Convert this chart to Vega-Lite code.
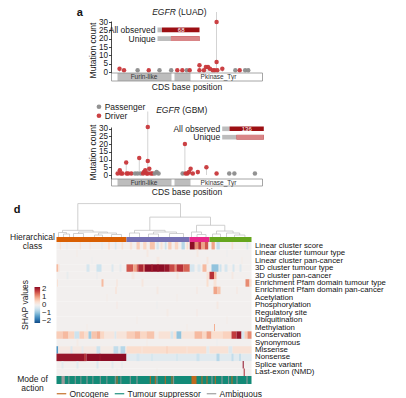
{
  "$schema": "https://vega.github.io/schema/vega-lite/v6.json",
  "background": "white",
  "padding": {"left": 9.5, "top": 5, "right": 0, "bottom": 0},
  "bounds": "flush",
  "spacing": 0,
  "resolve": {"scale": {"color": "independent", "x": "independent", "y": "independent"}},
  "config": {
    "font": "Liberation Sans",
    "view": {"stroke": null},
    "axis": {"grid": false, "labelFontSize": 8.5, "titleFontSize": 8.5, "titleFontWeight": "normal", "labelColor": "#1a1a1a", "titleColor": "#1a1a1a", "tickColor": "#1a1a1a", "domainColor": "#1a1a1a", "tickWidth": 0.8, "domainWidth": 0.8},
    "legend": {"labelFontSize": 8.5, "titleFontSize": 8.5, "titleFontWeight": "normal", "labelColor": "#1a1a1a", "titleColor": "#1a1a1a"}
  },
  "datasets": {
    "egfr_domains": [{"name": "Furin-like", "start": 144, "end": 1440}, {"name": "GF_recep_IV", "start": 1512, "end": 1896}],
    "egfr_domain_labels": [{"label": "Furin-like", "pos": 780}, {"label": "Pkinase_Tyr", "pos": 2568}],
    "egfr_cds": [{"start": 0, "end": 3624}],
    "luad_title": [{"panel": "a", "gene": "EGFR", "cohort": "(LUAD)", "panel_pos": -761, "title_pos": 1572}],
    "gbm_title": [{"gene": "EGFR", "cohort": "(GBM)", "title_pos": 1668}],
    "luad": [
      {"pos": 144, "count": 2, "type": "Driver"}, {"pos": 257, "count": 1, "type": "Driver"}, {"pos": 600, "count": 1, "type": "Passenger"},
      {"pos": 881, "count": 1, "type": "Driver"}, {"pos": 1152, "count": 1, "type": "Passenger"}, {"pos": 1447, "count": 1, "type": "Passenger"},
      {"pos": 1601, "count": 1, "type": "Driver"}, {"pos": 1728, "count": 1, "type": "Driver"}, {"pos": 1840, "count": 1, "type": "Passenger"},
      {"pos": 1913, "count": 1, "type": "Driver"}, {"pos": 2160, "count": 4, "type": "Driver"}, {"pos": 2160, "count": 1, "type": "Driver"},
      {"pos": 2273, "count": 1, "type": "Driver"}, {"pos": 2321, "count": 3, "type": "Driver"}, {"pos": 2376, "count": 3, "type": "Driver"},
      {"pos": 2424, "count": 2, "type": "Driver"}, {"pos": 2496, "count": 1, "type": "Driver"}, {"pos": 2544, "count": 1, "type": "Driver"},
      {"pos": 2592, "count": 30, "type": "Driver"}, {"pos": 2592, "count": 6, "type": "Driver"}, {"pos": 2610, "count": 1, "type": "Driver"},
      {"pos": 2736, "count": 2, "type": "Driver"}, {"pos": 3065, "count": 1, "type": "Passenger"}, {"pos": 3175, "count": 1, "type": "Driver"},
      {"pos": 3312, "count": 1, "type": "Passenger"}, {"pos": 3391, "count": 1, "type": "Passenger"}
    ],
    "luad_bar": [
      {"bar": "All observed", "type": "Passenger", "n": 8}, {"bar": "All observed", "type": "Driver", "n": 68},
      {"bar": "Unique", "type": "Passenger", "n": 8}, {"bar": "Unique", "type": "Driver", "n": 17}
    ],
    "gbm": [
      {"pos": 96, "count": 1, "type": "Driver"}, {"pos": 151, "count": 3, "type": "Driver"}, {"pos": 180, "count": 1, "type": "Driver"},
      {"pos": 216, "count": 1, "type": "Driver"}, {"pos": 312, "count": 8, "type": "Driver"}, {"pos": 324, "count": 1, "type": "Driver"},
      {"pos": 360, "count": 1, "type": "Driver"}, {"pos": 439, "count": 1, "type": "Driver"}, {"pos": 535, "count": 1, "type": "Passenger"},
      {"pos": 600, "count": 1, "type": "Passenger"}, {"pos": 641, "count": 11, "type": "Driver"}, {"pos": 679, "count": 1, "type": "Passenger"},
      {"pos": 737, "count": 1, "type": "Driver"}, {"pos": 761, "count": 2, "type": "Driver"}, {"pos": 792, "count": 3, "type": "Driver"},
      {"pos": 828, "count": 1, "type": "Driver"}, {"pos": 857, "count": 31, "type": "Driver"}, {"pos": 857, "count": 9, "type": "Driver"},
      {"pos": 857, "count": 1, "type": "Driver"}, {"pos": 895, "count": 4, "type": "Driver"}, {"pos": 936, "count": 1, "type": "Driver"},
      {"pos": 977, "count": 1, "type": "Driver"}, {"pos": 1032, "count": 1, "type": "Passenger"}, {"pos": 1080, "count": 2, "type": "Passenger"},
      {"pos": 1128, "count": 1, "type": "Passenger"}, {"pos": 1735, "count": 1, "type": "Passenger"}, {"pos": 1793, "count": 20, "type": "Driver"},
      {"pos": 1812, "count": 1, "type": "Driver"}, {"pos": 1855, "count": 1, "type": "Driver"}, {"pos": 1896, "count": 2, "type": "Driver"},
      {"pos": 1937, "count": 4, "type": "Driver"}, {"pos": 1992, "count": 1, "type": "Driver"}, {"pos": 2119, "count": 2, "type": "Driver"},
      {"pos": 2335, "count": 5, "type": "Driver"}, {"pos": 2592, "count": 1, "type": "Driver"}, {"pos": 2911, "count": 1, "type": "Passenger"},
      {"pos": 3041, "count": 1, "type": "Passenger"}, {"pos": 3559, "count": 1, "type": "Passenger"}
    ],
    "gbm_bar": [
      {"bar": "All observed", "type": "Passenger", "n": 29}, {"bar": "All observed", "type": "Driver", "n": 136},
      {"bar": "Unique", "type": "Passenger", "n": 10}, {"bar": "Unique", "type": "Driver", "n": 19}
    ],
    "dendro": [
      {"x1": 21.3, "x2": 124, "h1": 3.36, "h2": 3.36}, {"x1": 21.3, "x2": 21.3, "h1": 0.67, "h2": 3.36}, {"x1": 124, "x2": 124, "h1": 2.0, "h2": 3.36},
      {"x1": 93.3, "x2": 154, "h1": 2.0, "h2": 2.0}, {"x1": 93.3, "x2": 93.3, "h1": 0.67, "h2": 2.0}, {"x1": 154, "x2": 154, "h1": 1.18, "h2": 2.0},
      {"x1": 140, "x2": 168.3, "h1": 1.18, "h2": 1.18}, {"x1": 140, "x2": 140, "h1": 0.5, "h2": 1.18}, {"x1": 168.3, "x2": 168.3, "h1": 0.6, "h2": 1.18},
      {"x1": 6, "x2": 36.6, "h1": 0.67, "h2": 0.67}, {"x1": 6, "x2": 6, "h1": 0.45, "h2": 0.67}, {"x1": 2, "x2": 10, "h1": 0.45, "h2": 0.45},
      {"x1": 2, "x2": 2, "h1": 0, "h2": 0.45}, {"x1": 10, "x2": 10, "h1": 0.3, "h2": 0.45}, {"x1": 7, "x2": 13, "h1": 0.3, "h2": 0.3},
      {"x1": 7, "x2": 7, "h1": 0, "h2": 0.3}, {"x1": 13, "x2": 13, "h1": 0, "h2": 0.3}, {"x1": 36.6, "x2": 36.6, "h1": 0.5, "h2": 0.67},
      {"x1": 22, "x2": 51, "h1": 0.5, "h2": 0.5}, {"x1": 22, "x2": 22, "h1": 0.35, "h2": 0.5}, {"x1": 17, "x2": 27, "h1": 0.35, "h2": 0.35},
      {"x1": 17, "x2": 17, "h1": 0, "h2": 0.35}, {"x1": 27, "x2": 27, "h1": 0, "h2": 0.35}, {"x1": 51, "x2": 51, "h1": 0.4, "h2": 0.5},
      {"x1": 42, "x2": 60, "h1": 0.4, "h2": 0.4}, {"x1": 42, "x2": 42, "h1": 0.2, "h2": 0.4}, {"x1": 38, "x2": 46, "h1": 0.2, "h2": 0.2},
      {"x1": 38, "x2": 38, "h1": 0, "h2": 0.2}, {"x1": 46, "x2": 46, "h1": 0, "h2": 0.2}, {"x1": 60, "x2": 60, "h1": 0.25, "h2": 0.4},
      {"x1": 55, "x2": 65, "h1": 0.25, "h2": 0.25}, {"x1": 55, "x2": 55, "h1": 0, "h2": 0.25}, {"x1": 65, "x2": 65, "h1": 0, "h2": 0.25},
      {"x1": 78, "x2": 108.6, "h1": 0.67, "h2": 0.67}, {"x1": 78, "x2": 78, "h1": 0.4, "h2": 0.67}, {"x1": 73, "x2": 83, "h1": 0.4, "h2": 0.4},
      {"x1": 73, "x2": 73, "h1": 0, "h2": 0.4}, {"x1": 83, "x2": 83, "h1": 0, "h2": 0.4}, {"x1": 108.6, "x2": 108.6, "h1": 0.5, "h2": 0.67},
      {"x1": 97, "x2": 120, "h1": 0.5, "h2": 0.5}, {"x1": 97, "x2": 97, "h1": 0.3, "h2": 0.5}, {"x1": 92, "x2": 102, "h1": 0.3, "h2": 0.3},
      {"x1": 92, "x2": 92, "h1": 0, "h2": 0.3}, {"x1": 102, "x2": 102, "h1": 0, "h2": 0.3}, {"x1": 120, "x2": 120, "h1": 0.35, "h2": 0.5},
      {"x1": 113, "x2": 127, "h1": 0.35, "h2": 0.35}, {"x1": 113, "x2": 113, "h1": 0, "h2": 0.35}, {"x1": 127, "x2": 127, "h1": 0, "h2": 0.35},
      {"x1": 135, "x2": 145, "h1": 0.5, "h2": 0.5}, {"x1": 135, "x2": 135, "h1": 0, "h2": 0.5}, {"x1": 145, "x2": 145, "h1": 0.25, "h2": 0.5},
      {"x1": 140.5, "x2": 149.5, "h1": 0.25, "h2": 0.25}, {"x1": 140.5, "x2": 140.5, "h1": 0, "h2": 0.25}, {"x1": 149.5, "x2": 149.5, "h1": 0, "h2": 0.25},
      {"x1": 160, "x2": 176.6, "h1": 0.6, "h2": 0.6}, {"x1": 160, "x2": 160, "h1": 0.3, "h2": 0.6}, {"x1": 156, "x2": 164, "h1": 0.3, "h2": 0.3},
      {"x1": 156, "x2": 156, "h1": 0, "h2": 0.3}, {"x1": 164, "x2": 164, "h1": 0, "h2": 0.3}, {"x1": 176.6, "x2": 176.6, "h1": 0.4, "h2": 0.6},
      {"x1": 170, "x2": 183.2, "h1": 0.4, "h2": 0.4}, {"x1": 170, "x2": 170, "h1": 0, "h2": 0.4}, {"x1": 183.2, "x2": 183.2, "h1": 0.2, "h2": 0.4},
      {"x1": 178, "x2": 188.4, "h1": 0.2, "h2": 0.2}, {"x1": 178, "x2": 178, "h1": 0, "h2": 0.2}, {"x1": 188.4, "x2": 188.4, "h1": 0, "h2": 0.2}
    ],
    "panel_d": [{"panel": "d", "px": -39.3, "py": 2.69}],
    "classes": [
      {"c": "Cluster 1", "a": 0, "b": 70}, {"c": "Cluster 2", "a": 70, "b": 133},
      {"c": "Cluster 3", "a": 133, "b": 153}, {"c": "Cluster 4", "a": 153, "b": 195}
    ],
    "class_label": [{"label": "Hierarchical\nclass", "px": -24}],
    "mode_label": [{"label": "Mode of\naction", "px": -24}],
    "shap": [
      {"f": "Linear cluster score", "a": 0, "b": 195, "v": 0},
      {"f": "Linear cluster tumour type", "a": 0, "b": 195, "v": 0},
      {"f": "Linear cluster pan-cancer", "a": 0, "b": 195, "v": 0},
      {"f": "3D cluster tumour type", "a": 0, "b": 195, "v": 0},
      {"f": "3D cluster pan-cancer", "a": 0, "b": 195, "v": 0},
      {"f": "Enrichment Pfam domain tumour type", "a": 0, "b": 195, "v": 0},
      {"f": "Enrichment Pfam domain pan-cancer", "a": 0, "b": 195, "v": 0},
      {"f": "Acetylation", "a": 0, "b": 195, "v": 0},
      {"f": "Phosphorylation", "a": 0, "b": 195, "v": 0},
      {"f": "Regulatory site", "a": 0, "b": 195, "v": 0},
      {"f": "Ubiquitination", "a": 0, "b": 195, "v": 0},
      {"f": "Methylation", "a": 0, "b": 195, "v": 0},
      {"f": "Conservation", "a": 0, "b": 195, "v": 0},
      {"f": "Synonymous", "a": 0, "b": 195, "v": 0},
      {"f": "Missense", "a": 0, "b": 195, "v": 0},
      {"f": "Nonsense", "a": 0, "b": 195, "v": 0},
      {"f": "Splice variant", "a": 0, "b": 195, "v": 0},
      {"f": "Last-exon (NMD)", "a": 0, "b": 195, "v": 0},
      {"f": "Linear cluster score", "a": 3.3, "b": 4.3, "v": 0.3},
      {"f": "Linear cluster score", "a": 10, "b": 11, "v": -0.15},
      {"f": "Linear cluster score", "a": 23.3, "b": 24.3, "v": 0.3},
      {"f": "Linear cluster score", "a": 33, "b": 34, "v": 0.2},
      {"f": "Linear cluster score", "a": 45, "b": 46, "v": -0.2},
      {"f": "Linear cluster score", "a": 51.7, "b": 53.3, "v": 0.4},
      {"f": "Linear cluster score", "a": 58.3, "b": 60, "v": -0.3},
      {"f": "Linear cluster score", "a": 65, "b": 66.7, "v": 0.3},
      {"f": "Linear cluster score", "a": 73.3, "b": 75.7, "v": 0.3},
      {"f": "Linear cluster score", "a": 80, "b": 83.3, "v": 0.6},
      {"f": "Linear cluster score", "a": 86.7, "b": 90, "v": 0.5},
      {"f": "Linear cluster score", "a": 93.3, "b": 98.3, "v": 0.7},
      {"f": "Linear cluster score", "a": 100, "b": 102.3, "v": -0.4},
      {"f": "Linear cluster score", "a": 104, "b": 106, "v": 0.3},
      {"f": "Linear cluster score", "a": 108.3, "b": 110, "v": -0.5},
      {"f": "Linear cluster score", "a": 111.7, "b": 115, "v": 0.6},
      {"f": "Linear cluster score", "a": 118.3, "b": 121.7, "v": 0.5},
      {"f": "Linear cluster score", "a": 125, "b": 128.3, "v": -0.7},
      {"f": "Linear cluster score", "a": 130, "b": 131.7, "v": 0.4},
      {"f": "Linear cluster score", "a": 133.3, "b": 138.3, "v": 2.8},
      {"f": "Linear cluster score", "a": 138.3, "b": 141.7, "v": 1.2},
      {"f": "Linear cluster score", "a": 141.7, "b": 145, "v": 1.8},
      {"f": "Linear cluster score", "a": 145, "b": 148.3, "v": 1.0},
      {"f": "Linear cluster score", "a": 148.3, "b": 151.7, "v": 1.6},
      {"f": "Linear cluster score", "a": 155, "b": 158.3, "v": 1.0},
      {"f": "Linear cluster score", "a": 160, "b": 163.3, "v": -0.6},
      {"f": "Linear cluster score", "a": 175, "b": 176.7, "v": 0.3},
      {"f": "Linear cluster score", "a": 190, "b": 191.7, "v": -0.3},
      {"f": "Linear cluster tumour type", "a": 20, "b": 21, "v": 0.1},
      {"f": "Linear cluster tumour type", "a": 90, "b": 92, "v": 0.15},
      {"f": "Linear cluster tumour type", "a": 140, "b": 142, "v": 0.15},
      {"f": "Linear cluster tumour type", "a": 170, "b": 171, "v": -0.1},
      {"f": "Linear cluster pan-cancer", "a": 35, "b": 36, "v": -0.1},
      {"f": "Linear cluster pan-cancer", "a": 100, "b": 103, "v": 0.15},
      {"f": "Linear cluster pan-cancer", "a": 150, "b": 152, "v": 0.2},
      {"f": "Linear cluster pan-cancer", "a": 185, "b": 186, "v": 0.1},
      {"f": "3D cluster tumour type", "a": 0, "b": 1.5, "v": 0.8},
      {"f": "3D cluster tumour type", "a": 1.5, "b": 3, "v": 0.3},
      {"f": "3D cluster tumour type", "a": 30, "b": 33, "v": -0.4},
      {"f": "3D cluster tumour type", "a": 40, "b": 45, "v": -0.5},
      {"f": "3D cluster tumour type", "a": 55, "b": 57, "v": -0.3},
      {"f": "3D cluster tumour type", "a": 63, "b": 65, "v": -0.2},
      {"f": "3D cluster tumour type", "a": 70, "b": 76.7, "v": 1.6},
      {"f": "3D cluster tumour type", "a": 76.7, "b": 80, "v": 1.0},
      {"f": "3D cluster tumour type", "a": 80, "b": 81.7, "v": 1.5},
      {"f": "3D cluster tumour type", "a": 81.7, "b": 86.7, "v": 2.0},
      {"f": "3D cluster tumour type", "a": 86.7, "b": 88.3, "v": 1.6},
      {"f": "3D cluster tumour type", "a": 88.3, "b": 108.3, "v": 2.7},
      {"f": "3D cluster tumour type", "a": 95, "b": 96, "v": 2.0},
      {"f": "3D cluster tumour type", "a": 101, "b": 102, "v": 2.2},
      {"f": "3D cluster tumour type", "a": 108.3, "b": 113.3, "v": 2.2},
      {"f": "3D cluster tumour type", "a": 113.3, "b": 118.3, "v": 1.7},
      {"f": "3D cluster tumour type", "a": 118.3, "b": 120, "v": 1.2},
      {"f": "3D cluster tumour type", "a": 120, "b": 126.7, "v": 1.9},
      {"f": "3D cluster tumour type", "a": 126.7, "b": 133.3, "v": 1.5},
      {"f": "3D cluster tumour type", "a": 133.3, "b": 138, "v": -0.4},
      {"f": "3D cluster tumour type", "a": 141, "b": 144, "v": -0.3},
      {"f": "3D cluster tumour type", "a": 146, "b": 150, "v": 0.8},
      {"f": "3D cluster tumour type", "a": 155, "b": 162, "v": -1.0},
      {"f": "3D cluster tumour type", "a": 163, "b": 165, "v": -0.5},
      {"f": "3D cluster tumour type", "a": 168, "b": 171, "v": -0.4},
      {"f": "3D cluster tumour type", "a": 176, "b": 178, "v": -0.4},
      {"f": "3D cluster tumour type", "a": 183, "b": 185, "v": -0.3},
      {"f": "3D cluster pan-cancer", "a": 10, "b": 12, "v": -0.15},
      {"f": "3D cluster pan-cancer", "a": 40, "b": 41, "v": -0.15},
      {"f": "3D cluster pan-cancer", "a": 75, "b": 78, "v": 0.15},
      {"f": "3D cluster pan-cancer", "a": 120, "b": 122, "v": 0.2},
      {"f": "3D cluster pan-cancer", "a": 150, "b": 153, "v": 0.3},
      {"f": "3D cluster pan-cancer", "a": 153, "b": 157.5, "v": 1.9},
      {"f": "3D cluster pan-cancer", "a": 157.5, "b": 160, "v": 0.8},
      {"f": "3D cluster pan-cancer", "a": 175, "b": 177, "v": 0.15},
      {"f": "Enrichment Pfam domain tumour type", "a": 0.5, "b": 1.5, "v": 0.3},
      {"f": "Enrichment Pfam domain tumour type", "a": 45, "b": 47, "v": 0.8},
      {"f": "Enrichment Pfam domain tumour type", "a": 60, "b": 61, "v": 0.3},
      {"f": "Enrichment Pfam domain tumour type", "a": 85, "b": 87, "v": 0.2},
      {"f": "Enrichment Pfam domain tumour type", "a": 150, "b": 152, "v": 0.4},
      {"f": "Enrichment Pfam domain tumour type", "a": 157, "b": 160, "v": 0.3},
      {"f": "Enrichment Pfam domain tumour type", "a": 189, "b": 193, "v": 1.2},
      {"f": "Enrichment Pfam domain tumour type", "a": 193, "b": 195, "v": 0.4},
      {"f": "Enrichment Pfam domain pan-cancer", "a": 59, "b": 60, "v": 0.4},
      {"f": "Enrichment Pfam domain pan-cancer", "a": 100, "b": 102, "v": 0.15},
      {"f": "Enrichment Pfam domain pan-cancer", "a": 140, "b": 141, "v": 0.2},
      {"f": "Enrichment Pfam domain pan-cancer", "a": 157, "b": 161, "v": 1.0},
      {"f": "Enrichment Pfam domain pan-cancer", "a": 161, "b": 164, "v": 0.7},
      {"f": "Enrichment Pfam domain pan-cancer", "a": 180, "b": 181, "v": 0.2},
      {"f": "Acetylation", "a": 50, "b": 51, "v": 0.1},
      {"f": "Acetylation", "a": 120, "b": 121, "v": 0.1},
      {"f": "Phosphorylation", "a": 60, "b": 61, "v": 0.15},
      {"f": "Phosphorylation", "a": 100, "b": 101, "v": -0.1},
      {"f": "Phosphorylation", "a": 160, "b": 162, "v": 0.15},
      {"f": "Regulatory site", "a": 110, "b": 112, "v": 0.1},
      {"f": "Regulatory site", "a": 140, "b": 141, "v": 0.15},
      {"f": "Ubiquitination", "a": 80, "b": 81, "v": 0.1},
      {"f": "Ubiquitination", "a": 170, "b": 171, "v": 0.1},
      {"f": "Methylation", "a": 30, "b": 31, "v": 0.1},
      {"f": "Methylation", "a": 130, "b": 131, "v": 0.1},
      {"f": "Methylation", "a": 157.5, "b": 158.5, "v": 0.9},
      {"f": "Conservation", "a": 0, "b": 6, "v": 0.6},
      {"f": "Conservation", "a": 6, "b": 12, "v": 0.8},
      {"f": "Conservation", "a": 12, "b": 18, "v": 0.5},
      {"f": "Conservation", "a": 18, "b": 23, "v": -0.5},
      {"f": "Conservation", "a": 23, "b": 28, "v": 0.6},
      {"f": "Conservation", "a": 28, "b": 32, "v": 0.4},
      {"f": "Conservation", "a": 32, "b": 35, "v": -0.9},
      {"f": "Conservation", "a": 35, "b": 40, "v": 0.7},
      {"f": "Conservation", "a": 40, "b": 44, "v": 0.9},
      {"f": "Conservation", "a": 44, "b": 48, "v": 0.5},
      {"f": "Conservation", "a": 48, "b": 58, "v": 0.2},
      {"f": "Conservation", "a": 58, "b": 60, "v": -0.3},
      {"f": "Conservation", "a": 60, "b": 70, "v": 0.25},
      {"f": "Conservation", "a": 70, "b": 78, "v": 0.6},
      {"f": "Conservation", "a": 78, "b": 84, "v": 0.8},
      {"f": "Conservation", "a": 84, "b": 90, "v": 0.5},
      {"f": "Conservation", "a": 90, "b": 98, "v": 0.7},
      {"f": "Conservation", "a": 98, "b": 102, "v": 0.1},
      {"f": "Conservation", "a": 102, "b": 114, "v": 0.3},
      {"f": "Conservation", "a": 114, "b": 117, "v": -0.4},
      {"f": "Conservation", "a": 117, "b": 120, "v": 0.3},
      {"f": "Conservation", "a": 120, "b": 125, "v": -1.0},
      {"f": "Conservation", "a": 125, "b": 138, "v": 0.25},
      {"f": "Conservation", "a": 138, "b": 146, "v": 0.8},
      {"f": "Conservation", "a": 146, "b": 150, "v": 0.5},
      {"f": "Conservation", "a": 150, "b": 155, "v": 1.0},
      {"f": "Conservation", "a": 155, "b": 166, "v": 0.4},
      {"f": "Conservation", "a": 166, "b": 175, "v": 0.55},
      {"f": "Conservation", "a": 175, "b": 180, "v": 1.8},
      {"f": "Conservation", "a": 180, "b": 185, "v": 2.2},
      {"f": "Conservation", "a": 185, "b": 188, "v": -0.4},
      {"f": "Conservation", "a": 188, "b": 191, "v": 0.6},
      {"f": "Conservation", "a": 191, "b": 195, "v": 1.2},
      {"f": "Synonymous", "a": 20, "b": 22, "v": 0.1},
      {"f": "Synonymous", "a": 90, "b": 91, "v": 0.1},
      {"f": "Synonymous", "a": 160, "b": 161, "v": -0.1},
      {"f": "Missense", "a": 0, "b": 1.7, "v": -1.5},
      {"f": "Missense", "a": 1.7, "b": 40, "v": 0.15},
      {"f": "Missense", "a": 14, "b": 16, "v": -0.3},
      {"f": "Missense", "a": 25, "b": 27, "v": -0.2},
      {"f": "Missense", "a": 40, "b": 44, "v": -0.5},
      {"f": "Missense", "a": 44, "b": 57, "v": 0.1},
      {"f": "Missense", "a": 57, "b": 62, "v": -0.6},
      {"f": "Missense", "a": 62, "b": 64, "v": -0.2},
      {"f": "Missense", "a": 64, "b": 69, "v": -0.7},
      {"f": "Missense", "a": 69, "b": 70, "v": 0.1},
      {"f": "Missense", "a": 70, "b": 150, "v": 0.4},
      {"f": "Missense", "a": 85, "b": 86, "v": 0.2},
      {"f": "Missense", "a": 110, "b": 111, "v": 0.6},
      {"f": "Missense", "a": 130, "b": 131, "v": 0.2},
      {"f": "Missense", "a": 150, "b": 153, "v": -0.2},
      {"f": "Missense", "a": 153, "b": 172, "v": 0.3},
      {"f": "Missense", "a": 172, "b": 176, "v": -0.3},
      {"f": "Missense", "a": 176, "b": 195, "v": 0.3},
      {"f": "Nonsense", "a": 0, "b": 30, "v": 2.2},
      {"f": "Nonsense", "a": 28, "b": 29, "v": 1.6},
      {"f": "Nonsense", "a": 30, "b": 70, "v": 2.7},
      {"f": "Nonsense", "a": 43, "b": 44, "v": 2.2},
      {"f": "Nonsense", "a": 70, "b": 195, "v": -0.25},
      {"f": "Nonsense", "a": 80, "b": 83, "v": -0.4},
      {"f": "Nonsense", "a": 95, "b": 96, "v": -0.5},
      {"f": "Nonsense", "a": 120, "b": 121, "v": -0.5},
      {"f": "Nonsense", "a": 140, "b": 143, "v": -0.5},
      {"f": "Nonsense", "a": 160, "b": 163, "v": -0.7},
      {"f": "Nonsense", "a": 175, "b": 177, "v": -0.6},
      {"f": "Nonsense", "a": 183, "b": 184, "v": -0.8},
      {"f": "Splice variant", "a": 5, "b": 7, "v": -0.2},
      {"f": "Splice variant", "a": 20, "b": 22, "v": -0.25},
      {"f": "Splice variant", "a": 40, "b": 42, "v": -0.3},
      {"f": "Splice variant", "a": 55, "b": 57, "v": -0.2},
      {"f": "Splice variant", "a": 65, "b": 66, "v": -0.2},
      {"f": "Splice variant", "a": 186.2, "b": 187.2, "v": 2.3},
      {"f": "Last-exon (NMD)", "a": 60, "b": 61, "v": -0.1},
      {"f": "Last-exon (NMD)", "a": 100, "b": 101, "v": 0.1},
      {"f": "Last-exon (NMD)", "a": 187.2, "b": 188.2, "v": 2.0}
    ],
    "mode": [
      {"m": "Tumour suppressor", "a": 0, "b": 195},
      {"m": "Ambiguous", "a": 5, "b": 8.3}, {"m": "Ambiguous", "a": 12, "b": 12.8}, {"m": "Ambiguous", "a": 18.3, "b": 19.2},
      {"m": "Ambiguous", "a": 24, "b": 24.8}, {"m": "Ambiguous", "a": 30, "b": 31}, {"m": "Ambiguous", "a": 36, "b": 36.8},
      {"m": "Ambiguous", "a": 43.3, "b": 44.2}, {"m": "Ambiguous", "a": 50, "b": 50.8}, {"m": "Ambiguous", "a": 58.3, "b": 59.2},
      {"m": "Ambiguous", "a": 64, "b": 64.8}, {"m": "Ambiguous", "a": 73.3, "b": 74.2}, {"m": "Ambiguous", "a": 80, "b": 81},
      {"m": "Ambiguous", "a": 100, "b": 101}, {"m": "Ambiguous", "a": 116.7, "b": 117.6}, {"m": "Ambiguous", "a": 155, "b": 156},
      {"m": "Ambiguous", "a": 165, "b": 166}, {"m": "Ambiguous", "a": 171.7, "b": 172.6}, {"m": "Ambiguous", "a": 180, "b": 181},
      {"m": "Ambiguous", "a": 190, "b": 191},
      {"m": "Oncogene", "a": 60, "b": 61}, {"m": "Oncogene", "a": 93.3, "b": 94.3}, {"m": "Oncogene", "a": 98.3, "b": 99.3},
      {"m": "Oncogene", "a": 108.3, "b": 109.3}, {"m": "Oncogene", "a": 115, "b": 116}, {"m": "Oncogene", "a": 135, "b": 140},
      {"m": "Oncogene", "a": 145, "b": 146}, {"m": "Oncogene", "a": 150, "b": 151}, {"m": "Oncogene", "a": 158.3, "b": 159.3},
      {"m": "Oncogene", "a": 175, "b": 176}
    ]
  },
  "vconcat": [
    {
      "width": 206,
      "height": 16,
      "data": {"name": "luad_title"},
      "layer": [
        {
          "mark": {"type": "text", "fontSize": 11, "fontWeight": "bold", "baseline": "middle", "color": "#111111"},
          "encoding": {
            "x": {"field": "panel_pos", "type": "quantitative", "scale": {"domain": [-1320, 3624], "nice": false, "zero": false}, "axis": null},
            "text": {"field": "panel"}
          }
        },
        {
          "mark": {"type": "text", "fontSize": 8.5, "fontStyle": "italic", "align": "right", "baseline": "middle", "dx": -1.2, "dy": -1.2, "color": "#1a1a1a"},
          "encoding": {
            "x": {"field": "title_pos", "type": "quantitative"},
            "text": {"field": "gene"}
          }
        },
        {
          "mark": {"type": "text", "fontSize": 8.5, "align": "left", "baseline": "middle", "dx": 1.2, "dy": -1.2, "color": "#1a1a1a"},
          "encoding": {
            "x": {"field": "title_pos", "type": "quantitative"},
            "text": {"field": "cohort"}
          }
        }
      ]
    },
    {
      "width": 206,
      "height": 52,
      "resolve": {"scale": {"x": "independent", "y": "independent", "color": "independent"}},
      "layer": [
        {
          "data": {"name": "luad"},
          "encoding": {
            "x": {"field": "pos", "type": "quantitative", "scale": {"domain": [-1320, 3624], "nice": false, "zero": false}, "axis": null},
            "y": {"field": "count", "type": "quantitative", "scale": {"domain": [-0.6, 30.6], "nice": false, "zero": false},
                  "axis": {"title": "Mutation count", "values": [0, 5, 10, 15, 20, 25, 30], "labelOverlap": false, "labelFontSize": 8.2, "offset": -54.5, "tickSize": 2.5, "labelPadding": 1, "titlePadding": 1, "titleY": 29}}
          },
          "layer": [
            {
              "mark": {"type": "bar", "orient": "vertical", "size": 0.8, "color": "#c9c9c9"}
            },
            {
              "mark": {"type": "circle", "size": 20, "opacity": 0.95},
              "encoding": {
                "color": {"field": "type", "type": "nominal", "scale": {"domain": ["Passenger", "Driver"], "range": ["#8c8c8c", "#c8373a"]}, "legend": null}
              }
            }
          ]
        },
        {
          "data": {"name": "luad_bar"},
          "transform": [{"stack": "n", "groupby": ["bar"], "offset": "normalize", "sort": [{"field": "type", "order": "descending"}], "as": ["n0", "n1"]}],
          "layer": [
            {
              "mark": {"type": "rect"},
              "encoding": {
                "x": {"field": "n0", "type": "quantitative", "scale": {"domain": [0, 1], "range": [101, 143], "nice": false, "zero": false}, "axis": null},
                "x2": {"field": "n1"},
                "y": {"field": "bar", "type": "nominal", "scale": {"domain": ["All observed", "Unique"], "range": [6.5, 20], "paddingInner": 0.45, "paddingOuter": 0}, "axis": null},
                "color": {"field": "type", "type": "nominal", "scale": {"domain": ["Passenger", "Driver"], "range": ["#bdbdbd", "#9c0f13"]}, "legend": null}
              }
            },
            {
              "transform": [{"filter": "datum.type === 'Driver' && datum.bar === 'Unique'"}],
              "mark": {"type": "rect", "color": "#d98587"},
              "encoding": {
                "x": {"field": "n0", "type": "quantitative"},
                "x2": {"field": "n1"},
                "y": {"field": "bar", "type": "nominal"}
              }
            },
            {
              "transform": [{"filter": "datum.type === 'Passenger'"}],
              "mark": {"type": "text", "align": "right", "baseline": "middle", "dx": -2, "fontSize": 8.5, "color": "#1a1a1a"},
              "encoding": {
                "x": {"field": "n0", "type": "quantitative"},
                "y": {"field": "bar", "type": "nominal"},
                "text": {"field": "bar"}
              }
            },
            {
              "transform": [{"filter": "datum.type === 'Driver' && datum.bar === 'All observed'"}],
              "mark": {"type": "text", "align": "right", "baseline": "middle", "dx": -15, "fontSize": 6, "color": "#ffffff"},
              "encoding": {
                "x": {"field": "n1", "type": "quantitative"},
                "y": {"field": "bar", "type": "nominal"},
                "text": {"field": "n"}
              }
            }
          ]
        }
      ]
    },
    {
      "width": 206,
      "height": 8,
      "layer": [
        {
          "data": {"name": "egfr_domains"},
          "mark": {"type": "rect", "fill": "#bdbdbd"},
          "encoding": {
            "x": {"field": "start", "type": "quantitative", "scale": {"domain": [-1320, 3624], "nice": false, "zero": false},
                  "axis": {"title": "CDS base position", "labels": false, "ticks": false, "domain": false, "titlePadding": 1, "titleX": 130}},
            "x2": {"field": "end"}
          }
        },
        {
          "data": {"name": "egfr_cds"},
          "mark": {"type": "rect", "fill": "transparent", "stroke": "#8f8f8f", "strokeWidth": 0.8},
          "encoding": {
            "x": {"field": "start", "type": "quantitative"},
            "x2": {"field": "end"}
          }
        },
        {
          "data": {"name": "egfr_domain_labels"},
          "mark": {"type": "text", "fontSize": 6.5, "color": "#333333", "baseline": "middle"},
          "encoding": {
            "x": {"field": "pos", "type": "quantitative"},
            "text": {"field": "label"}
          }
        }
      ]
    },
    {
      "width": 206,
      "height": 46,
      "data": {"name": "gbm_title"},
      "layer": [
        {
          "mark": {"type": "text", "fontSize": 8.5, "fontStyle": "italic", "align": "right", "baseline": "middle", "dx": -1.2, "dy": 6, "color": "#1a1a1a"},
          "encoding": {
            "x": {"field": "title_pos", "type": "quantitative", "scale": {"domain": [-1320, 3624], "nice": false, "zero": false}, "axis": null},
            "text": {"field": "gene"}
          }
        },
        {
          "mark": {"type": "text", "fontSize": 8.5, "align": "left", "baseline": "middle", "dx": 1.2, "dy": 6, "color": "#1a1a1a"},
          "encoding": {
            "x": {"field": "title_pos", "type": "quantitative"},
            "text": {"field": "cohort"}
          }
        }
      ]
    },
    {
      "width": 206,
      "height": 52,
      "resolve": {"scale": {"x": "independent", "y": "independent", "color": "independent"}},
      "layer": [
        {
          "data": {"name": "gbm"},
          "encoding": {
            "x": {"field": "pos", "type": "quantitative", "scale": {"domain": [-1320, 3624], "nice": false, "zero": false}, "axis": null},
            "y": {"field": "count", "type": "quantitative", "scale": {"domain": [-2.58, 30.97], "nice": false, "zero": false},
                  "axis": {"title": "Mutation count", "values": [0, 5, 10, 15, 20, 25, 30], "labelOverlap": false, "labelFontSize": 8.2, "offset": -54.5, "tickSize": 2.5, "labelPadding": 1, "titlePadding": 1, "titleY": 25}}
          },
          "layer": [
            {
              "mark": {"type": "bar", "orient": "vertical", "size": 0.8, "color": "#c9c9c9"}
            },
            {
              "mark": {"type": "circle", "size": 20, "opacity": 0.95},
              "encoding": {
                "color": {"field": "type", "type": "nominal", "scale": {"domain": ["Passenger", "Driver"], "range": ["#8c8c8c", "#c8373a"]},
                          "legend": {"orient": "none", "legendX": 38.2, "legendY": -24.5, "title": null, "symbolSize": 22, "symbolType": "circle", "rowPadding": -1.5, "padding": 0, "labelOffset": 1.5, "symbolStrokeWidth": 0}}
              }
            }
          ]
        },
        {
          "data": {"name": "gbm_bar"},
          "transform": [{"stack": "n", "groupby": ["bar"], "offset": "normalize", "sort": [{"field": "type", "order": "descending"}], "as": ["n0", "n1"]}],
          "layer": [
            {
              "mark": {"type": "rect"},
              "encoding": {
                "x": {"field": "n0", "type": "quantitative", "scale": {"domain": [0, 1], "range": [165.7, 207.3], "nice": false, "zero": false}, "axis": null},
                "x2": {"field": "n1"},
                "y": {"field": "bar", "type": "nominal", "scale": {"domain": ["All observed", "Unique"], "range": [-0.5, 12.5], "paddingInner": 0.45, "paddingOuter": 0}, "axis": null},
                "color": {"field": "type", "type": "nominal", "scale": {"domain": ["Passenger", "Driver"], "range": ["#bdbdbd", "#9c0f13"]}, "legend": null}
              }
            },
            {
              "transform": [{"filter": "datum.type === 'Driver' && datum.bar === 'Unique'"}],
              "mark": {"type": "rect", "color": "#d98587"},
              "encoding": {
                "x": {"field": "n0", "type": "quantitative"},
                "x2": {"field": "n1"},
                "y": {"field": "bar", "type": "nominal"}
              }
            },
            {
              "transform": [{"filter": "datum.type === 'Passenger'"}],
              "mark": {"type": "text", "align": "right", "baseline": "middle", "dx": -2, "fontSize": 8.5, "color": "#1a1a1a"},
              "encoding": {
                "x": {"field": "n0", "type": "quantitative"},
                "y": {"field": "bar", "type": "nominal"},
                "text": {"field": "bar"}
              }
            },
            {
              "transform": [{"filter": "datum.type === 'Driver' && datum.bar === 'All observed'"}],
              "mark": {"type": "text", "align": "right", "baseline": "middle", "dx": -12, "fontSize": 6, "color": "#ffffff"},
              "encoding": {
                "x": {"field": "n1", "type": "quantitative"},
                "y": {"field": "bar", "type": "nominal"},
                "text": {"field": "n"}
              }
            }
          ]
        }
      ]
    },
    {
      "width": 206,
      "height": 7,
      "layer": [
        {
          "data": {"name": "egfr_domains"},
          "mark": {"type": "rect", "fill": "#bdbdbd"},
          "encoding": {
            "x": {"field": "start", "type": "quantitative", "scale": {"domain": [-1320, 3624], "nice": false, "zero": false},
                  "axis": {"title": "CDS base position", "labels": false, "ticks": false, "domain": false, "titlePadding": 1, "titleX": 130}},
            "x2": {"field": "end"}
          }
        },
        {
          "data": {"name": "egfr_cds"},
          "mark": {"type": "rect", "fill": "transparent", "stroke": "#8f8f8f", "strokeWidth": 0.8},
          "encoding": {
            "x": {"field": "start", "type": "quantitative"},
            "x2": {"field": "end"}
          }
        },
        {
          "data": {"name": "egfr_domain_labels"},
          "mark": {"type": "text", "fontSize": 6.5, "color": "#333333", "baseline": "middle"},
          "encoding": {
            "x": {"field": "pos", "type": "quantitative"},
            "text": {"field": "label"}
          }
        }
      ]
    },
    {
      "width": 195,
      "height": 51,
      "layer": [
        {
          "data": {"name": "dendro"},
          "mark": {"type": "rule", "color": "#c4c4c4", "strokeWidth": 0.8},
          "encoding": {
            "x": {"field": "x1", "type": "quantitative", "scale": {"domain": [0, 195], "nice": false, "zero": false}, "axis": null},
            "x2": {"field": "x2"},
            "y": {"field": "h1", "type": "quantitative", "scale": {"domain": [0, 5.13], "nice": false, "zero": false}, "axis": null},
            "y2": {"field": "h2"}
          }
        },
        {
          "data": {"name": "panel_d"},
          "mark": {"type": "text", "fontSize": 11, "fontWeight": "bold", "baseline": "middle", "color": "#111111"},
          "encoding": {
            "x": {"field": "px", "type": "quantitative"},
            "y": {"field": "py", "type": "quantitative"},
            "text": {"field": "panel"}
          }
        }
      ]
    },
    {
      "width": 195,
      "height": 5,
      "layer": [
        {
          "data": {"name": "classes"},
          "mark": {"type": "rect"},
          "encoding": {
            "x": {"field": "a", "type": "quantitative", "scale": {"domain": [0, 195], "nice": false, "zero": false}, "axis": null},
            "x2": {"field": "b"},
            "color": {"field": "c", "type": "nominal", "scale": {"domain": ["Cluster 1", "Cluster 2", "Cluster 3", "Cluster 4"], "range": ["#d95f02", "#7570b3", "#e7298a", "#66a61e"]}, "legend": null}
          }
        },
        {
          "data": {"name": "class_label"},
          "mark": {"type": "text", "fontSize": 8.5, "align": "center", "baseline": "middle", "lineBreak": "\n", "lineHeight": 9, "dy": -2.3, "color": "#1a1a1a"},
          "encoding": {
            "x": {"field": "px", "type": "quantitative"},
            "text": {"field": "label"}
          }
        }
      ]
    },
    {
      "width": 195,
      "height": 134,
      "data": {"name": "shap"},
      "mark": {"type": "rect"},
      "encoding": {
        "x": {"field": "a", "type": "quantitative", "scale": {"domain": [0, 195], "nice": false, "zero": false}, "axis": null},
        "x2": {"field": "b"},
        "y": {"field": "f", "type": "nominal",
              "sort": ["Linear cluster score", "Linear cluster tumour type", "Linear cluster pan-cancer", "3D cluster tumour type", "3D cluster pan-cancer", "Enrichment Pfam domain tumour type", "Enrichment Pfam domain pan-cancer", "Acetylation", "Phosphorylation", "Regulatory site", "Ubiquitination", "Methylation", "Conservation", "Synonymous", "Missense", "Nonsense", "Splice variant", "Last-exon (NMD)"],
              "axis": {"orient": "right", "title": null, "ticks": false, "domain": false, "labelPadding": 3, "labelFontSize": 7.8, "labelColor": "#111111"}},
        "color": {"field": "v", "type": "quantitative", "scale": {"scheme": "redblue", "reverse": true, "domain": [-2.3, 2.3], "clamp": true},
                  "legend": {"orient": "none", "legendX": -36, "legendY": 45, "title": "SHAP values", "titleOrient": "left", "titleAnchor": "middle", "gradientLength": 36, "gradientThickness": 5.6, "direction": "vertical", "values": [-2, -1, 0, 1, 2], "labelFontSize": 7.8, "labelOffset": 2, "padding": 0, "gradientStrokeWidth": 0, "labelOverlap": false}}
      }
    },
    {
      "width": 195,
      "height": 8,
      "layer": [
        {
          "data": {"name": "mode"},
          "mark": {"type": "rect"},
          "encoding": {
            "x": {"field": "a", "type": "quantitative", "scale": {"domain": [0, 195], "nice": false, "zero": false}, "axis": null},
            "x2": {"field": "b"},
            "color": {"field": "m", "type": "nominal", "scale": {"domain": ["Oncogene", "Tumour suppressor", "Ambiguous"], "range": ["#c0691e", "#138a77", "#9a9a9a"]},
                      "legend": {"orient": "none", "legendX": 0, "legendY": 12.5, "direction": "horizontal", "title": null, "symbolType": "M-1,-0.12L1,-0.12L1,0.12L-1,0.12Z", "symbolSize": 90, "columnPadding": 5, "labelOffset": 3, "padding": 0, "symbolStrokeWidth": 0}}
          }
        },
        {
          "data": {"name": "mode_label"},
          "mark": {"type": "text", "fontSize": 8.5, "align": "center", "baseline": "middle", "lineBreak": "\n", "lineHeight": 9, "dy": -1.2, "color": "#1a1a1a"},
          "encoding": {
            "x": {"field": "px", "type": "quantitative"},
            "text": {"field": "label"}
          }
        }
      ]
    }
  ]
}
